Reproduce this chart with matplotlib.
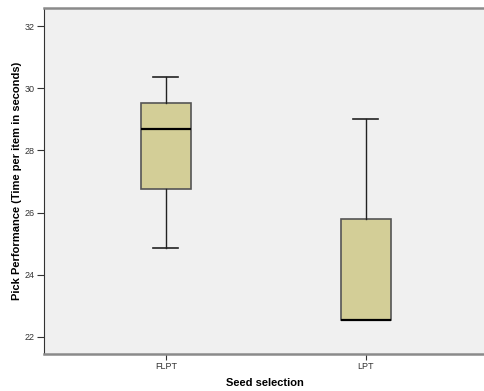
import matplotlib.pyplot as plt

# Values
groups = ['FLPT', 'LPT']
whisker_low = [24.85, 22.55]
q1 = [26.77, 22.55]
median = [28.70, 22.55]
q3 = [29.53, 25.80]
whisker_high = [30.36, 29.01]
y_ticks = [22, 24, 26, 28, 30, 32]

plt.rcParams['font.family'] = ['Liberation Sans', 'DejaVu Sans']

fig = plt.figure(figsize=(4.85, 3.91), dpi=100)
ax = fig.add_axes([0.0907, 0.0946, 0.9093, 0.885])
ax.set_facecolor('#f0f0f0')

stats = []
for i, g in enumerate(groups):
    stats.append({'label': g, 'whislo': whisker_low[i], 'q1': q1[i], 'med': median[i],
                  'q3': q3[i], 'whishi': whisker_high[i], 'fliers': []})

ax.bxp(stats, positions=range(len(groups)), widths=0.25, patch_artist=True,
       showfliers=False,
       boxprops=dict(facecolor='#d3ce97', edgecolor='#555555', linewidth=1.2),
       medianprops=dict(color='black', linewidth=1.6),
       whiskerprops=dict(color='#222222', linewidth=1),
       capprops=dict(color='#222222', linewidth=1.2),
       capwidths=0.125)

ax.set_xlim(-0.61, 1.595)
ax.set_ylim(21.45, 32.58)
ax.set_yticks(y_ticks)
ax.set_yticklabels([str(t) for t in y_ticks], fontsize=6.5, color='#333333')
ax.tick_params(axis='x', labelsize=6.5, length=4, width=0.8, colors='#333333', pad=2)
ax.tick_params(axis='y', length=5, width=0.8, colors='#333333', pad=2)

for side in ['top', 'bottom']:
    ax.spines[side].set_color('#8a8a8a')
    ax.spines[side].set_linewidth(1.8)
ax.spines['left'].set_color('#333333')
ax.spines['left'].set_linewidth(0.8)
ax.spines['right'].set_visible(False)

ax.set_xlabel('Seed selection', fontsize=8, fontweight='bold', va='center')
ax.xaxis.set_label_coords(0.5, -0.084)
ax.set_ylabel('Pick Performance (Time per item in seconds)', fontsize=8,
              fontweight='bold', va='center')
ax.yaxis.set_label_coords(-0.061, 0.5)

fig.savefig('out.png', dpi=100)
